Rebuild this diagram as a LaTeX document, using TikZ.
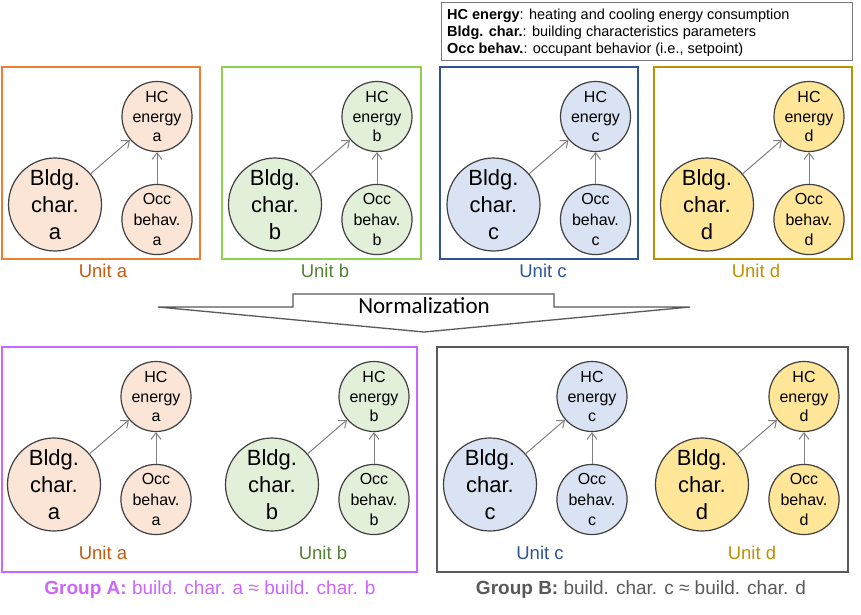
\documentclass[tikz,border=0pt]{standalone}
\usepackage{fontspec}
\setmainfont{Liberation Sans}
\newfontfamily\calfont{Carlito}
\usetikzlibrary{arrows.meta}
\definecolor{orbox}{HTML}{ED7D31}
\definecolor{orfill}{HTML}{FBE5D6}
\definecolor{ortext}{HTML}{C55A11}
\definecolor{grbox}{HTML}{92D050}
\definecolor{grfill}{HTML}{E2F0D9}
\definecolor{grtext}{HTML}{548235}
\definecolor{blbox}{HTML}{2F5597}
\definecolor{blfill}{HTML}{DAE3F3}
\definecolor{bltext}{HTML}{2F5597}
\definecolor{gdbox}{HTML}{BF9000}
\definecolor{gdfill}{HTML}{FFE699}
\definecolor{gdtext}{HTML}{BF9000}
\definecolor{grpa}{HTML}{CC66FF}
\definecolor{grpb}{HTML}{595959}
\definecolor{circline}{HTML}{404040}
\definecolor{connline}{HTML}{808080}
\newcommand\unitgraph[5]{%
  \node[bigc, fill=#5] (#1b) at ({#2+53}, {#3+137.5}) {Bldg.\\char.\\#4};
  \node[hcc, fill=#5] (#1h) at ({#2+155}, {#3+49.5}) {HC\\energy\\#4};
  \node[occc, fill=#5] (#1o) at ({#2+155}, {#3+152.5}) {Occ\\behav.\\#4};
  \draw[conn] (#1b) -- (#1h);
  \draw[conn] (#1o) -- (#1h);
}
\begin{document}
\begin{tikzpicture}[x=1pt,y=-1pt,
  bigc/.style={circle, draw=circline, line width=1.2pt, minimum size=93pt, inner sep=0pt, align=center, font=\fontsize{22}{27}\selectfont},
  hcc/.style={circle, draw=circline, line width=1.2pt, minimum size=64pt, inner sep=0pt, align=center, font=\fontsize{16}{19.5}\selectfont},
  occc/.style={circle, draw=circline, line width=1.2pt, minimum size=63pt, inner sep=0pt, align=center, font=\fontsize{16}{20.5}\selectfont},
  conn/.style={draw=connline, line width=1pt, -{Straight Barb[length=6.5pt,width=10pt]}},
  unitbox/.style={line width=2.5pt},
  unitlbl/.style={font=\fontsize{18.5}{20}\selectfont, inner sep=0pt},
  grplbl/.style={font=\fontsize{19}{21}\selectfont, inner sep=0pt}
]
\useasboundingbox[fill=white] (0,0) rectangle (861,615);
% legend
\draw[draw=grpb!80, line width=1pt] (441,3) rectangle (852,61);
\node[anchor=west, align=left, inner sep=0pt, font=\fontsize{14.5}{17}\selectfont] (legend) at (447,33)
  {\textbf{HC energy}: heating and cooling energy consumption\\
   \textbf{Bldg. char.}: building characteristics parameters\\
   \textbf{Occ behav.}: occupant behavior (i.e., setpoint)};
% top row boxes
\draw[unitbox, draw=orbox] (2,67) rectangle (200,259);
\draw[unitbox, draw=grbox] (222,67) rectangle (421,259);
\draw[unitbox, draw=blbox] (440,67) rectangle (638,259);
\draw[unitbox, draw=gdbox] (654,67) rectangle (852,259);
\unitgraph{ta}{2}{67}{a}{orfill}
\unitgraph{tb}{222}{67}{b}{grfill}
\unitgraph{tc}{440.5}{67}{c}{blfill}
\unitgraph{td}{654}{67}{d}{gdfill}
\node[unitlbl, text=ortext] (lta) at (103,271) {Unit a};
\node[unitlbl, text=grtext] (ltb) at (325,271) {Unit b};
\node[unitlbl, text=bltext] (ltc) at (543,271) {Unit c};
\node[unitlbl, text=gdtext] (ltd) at (756,271) {Unit d};
% normalization arrow
\draw[draw=grpb, fill=white, line width=1.3pt, line join=miter]
  (158,307) -- (293,307) -- (293,294) -- (554,294) -- (554,307) -- (690,307) -- (424,332) -- cycle;
\node[font=\calfont\fontsize{23}{26}\selectfont, inner sep=0pt] (norm) at (424,306) {Normalization};
% bottom groups
\draw[unitbox, draw=grpa] (2,347) rectangle (417,572);
\draw[unitbox, draw=grpb] (437,347) rectangle (848,572);
\unitgraph{ba}{1}{347}{a}{orfill}
\unitgraph{bb}{219}{347}{b}{grfill}
\unitgraph{bc}{437}{347}{c}{blfill}
\unitgraph{bd}{649}{347}{d}{gdfill}
\node[unitlbl, text=ortext] (lba) at (103,553) {Unit a};
\node[unitlbl, text=grtext] (lbb) at (323,553) {Unit b};
\node[unitlbl, text=bltext] (lbc) at (540,553) {Unit c};
\node[unitlbl, text=gdtext] (lbd) at (752,553) {Unit d};
\node[grplbl, text=grpa] (ga) at (210,590) {\textbf{Group A:} build. char. a ≈ build. char. b};
\node[grplbl, text=grpb] (gb) at (641,590) {\textbf{Group B:} build. char. c ≈ build. char. d};
\end{tikzpicture}
\end{document}
